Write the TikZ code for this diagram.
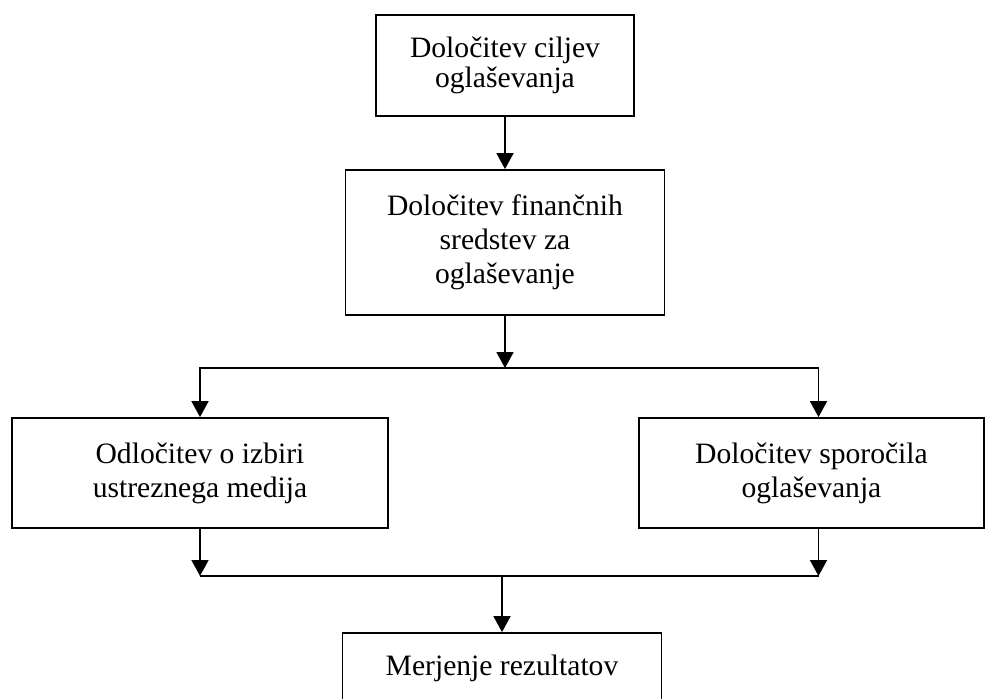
\documentclass[tikz,border=0pt]{standalone}
\usepackage{fontspec}
\setmainfont{Liberation Serif}
\usetikzlibrary{arrows.meta, positioning, calc}
\tikzset{
    stepbox/.style={rectangle, draw=black, line width=0.9pt, align=center, inner sep=0pt,
        font=\fontsize{14.8}{17}\selectfont},
    flowarrow/.style={-{Triangle[length=8pt,width=8.5pt]}, line width=0.9pt, draw=black},
    flowline/.style={line width=0.9pt, draw=black}
}

\begin{document}
\begin{tikzpicture}[x=0.5pt, y=-0.5pt]
    \useasboundingbox[fill=white] (0,0) rectangle (986,698);

    \node[stepbox, minimum width=129pt, minimum height=50.5pt, font=\fontsize{14.8}{15}\selectfont]
        (cilji) at (505,65.5) {Določitev ciljev\\oglaševanja};
    \node[stepbox, minimum width=159.5pt, minimum height=72.5pt]
        (sredstva) at (505,242.5) {Določitev finančnih\\sredstev za\\oglaševanje};
    \node[stepbox, minimum width=188pt, minimum height=55pt]
        (medij) at (200,473) {Odločitev o izbiri\\ustreznega medija};
    \node[stepbox, minimum width=172.5pt, minimum height=55pt]
        (sporocilo) at (811.5,473) {Določitev sporočila\\oglaševanja};
    \node[stepbox, minimum width=159.5pt, minimum height=35pt]
        (rezultati) at (502,668) {Merjenje rezultatov};

    \coordinate (split) at (505,368);
    \coordinate (merge) at (502,576);

    % Top chain
    \draw[flowarrow] (cilji.south) -- (sredstva.north);
    \draw[flowarrow] (sredstva.south) -- (split);

    % Branch to both boxes
    \draw[flowarrow] (split) -| (medij.north);
    \draw[flowarrow] (split) -| ([xshift=3.5pt]sporocilo.north);

    % Join again
    \draw[flowarrow] (medij.south) -- (medij.south |- merge);
    \draw[flowarrow] ([xshift=3.5pt]sporocilo.south) -- ([xshift=3.5pt]sporocilo.south |- merge);
    \draw[flowline] (medij.south |- merge) -- ([xshift=3.5pt]sporocilo.south |- merge);
    \draw[flowarrow] (merge) -- (rezultati.north);
\end{tikzpicture}
\end{document}
